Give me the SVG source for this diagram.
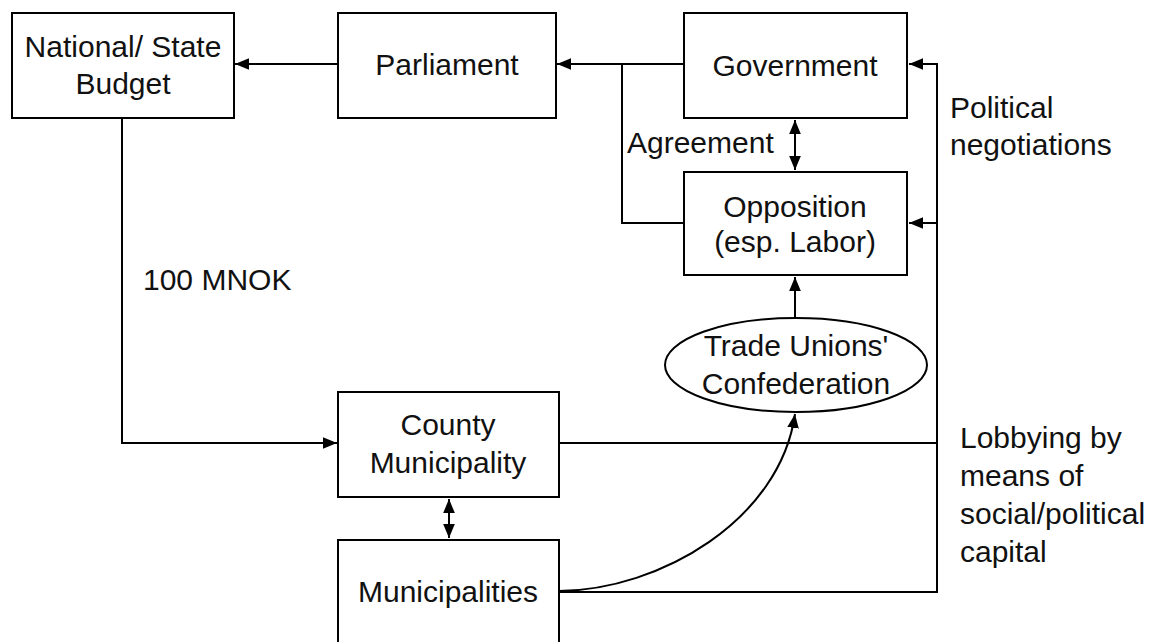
<svg xmlns="http://www.w3.org/2000/svg" width="1164" height="642" viewBox="0 0 1164 642">
<style>
.box{fill:#fff;stroke:#000;stroke-width:2}
.t{font-family:"Liberation Sans",Arial,sans-serif;font-size:30px;fill:#111}
.c{text-anchor:middle}
.ln{fill:none;stroke:#000;stroke-width:2}
</style>
<defs>
<marker id="ah" markerUnits="userSpaceOnUse" markerWidth="14" markerHeight="12" refX="12" refY="5" orient="auto-start-reverse" viewBox="0 0 12 10">
<path d="M0,0 L12,5 L0,10 z" fill="#000"/>
</marker>
</defs>
<rect width="1164" height="642" fill="#fff"/>
<g id="connectors">
<line class="ln" x1="338" y1="64" x2="235" y2="64" marker-end="url(#ah)"/>
<line class="ln" x1="684" y1="64" x2="557" y2="64" marker-end="url(#ah)"/>
<polyline class="ln" points="684,223 622,223 622,64"/>
<line class="ln" x1="795" y1="120" x2="795" y2="170" marker-start="url(#ah)" marker-end="url(#ah)"/>
<line class="ln" x1="795" y1="318" x2="795" y2="277" marker-end="url(#ah)"/>
<polyline class="ln" points="559,592 937,592 937,64 909,64" marker-end="url(#ah)"/>
<line class="ln" x1="937" y1="223" x2="909" y2="223" marker-end="url(#ah)"/>
<line class="ln" x1="559" y1="443" x2="937" y2="443"/>
<polyline class="ln" points="122,118 122,443 337,443" marker-end="url(#ah)"/>
<line class="ln" x1="449" y1="499" x2="449" y2="538" marker-start="url(#ah)" marker-end="url(#ah)"/>
<path class="ln" d="M559,591 C660,590 780,520 795,414" marker-end="url(#ah)"/>
</g>
<g id="budget">
<rect class="box" x="12" y="13" width="222" height="105"/>
<text class="t c" x="123" y="57">National/ State</text>
<text class="t c" x="123" y="94">Budget</text>
</g>
<g id="parliament">
<rect class="box" x="338" y="13" width="218" height="105"/>
<text class="t c" x="447" y="75">Parliament</text>
</g>
<g id="government">
<rect class="box" x="684" y="13" width="223" height="105"/>
<text class="t c" x="795" y="76">Government</text>
</g>
<g id="opposition">
<rect class="box" x="684" y="172" width="223" height="103"/>
<text class="t c" x="795" y="217">Opposition</text>
<text class="t c" x="795" y="252">(esp. Labor)</text>
</g>
<g id="unions">
<ellipse class="box" cx="796" cy="365" rx="131" ry="47"/>
<text class="t c" x="796" y="356">Trade Unions'</text>
<text class="t c" x="796" y="394">Confederation</text>
</g>
<g id="county">
<rect class="box" x="338" y="392" width="221" height="105"/>
<text class="t c" x="448" y="435">County</text>
<text class="t c" x="448" y="473">Municipality</text>
</g>
<g id="municipalities">
<rect class="box" x="338" y="540" width="221" height="130"/>
<text class="t c" x="448" y="602">Municipalities</text>
</g>
<g id="labels">
<text class="t" x="627" y="153">Agreement</text>
<text class="t" x="950" y="118">Political</text>
<text class="t" x="950" y="155">negotiations</text>
<text class="t" x="143" y="290">100 MNOK</text>
<text class="t" x="960" y="448">Lobbying by</text>
<text class="t" x="960" y="486">means of</text>
<text class="t" x="960" y="524">social/political</text>
<text class="t" x="960" y="562">capital</text>
</g>
</svg>
